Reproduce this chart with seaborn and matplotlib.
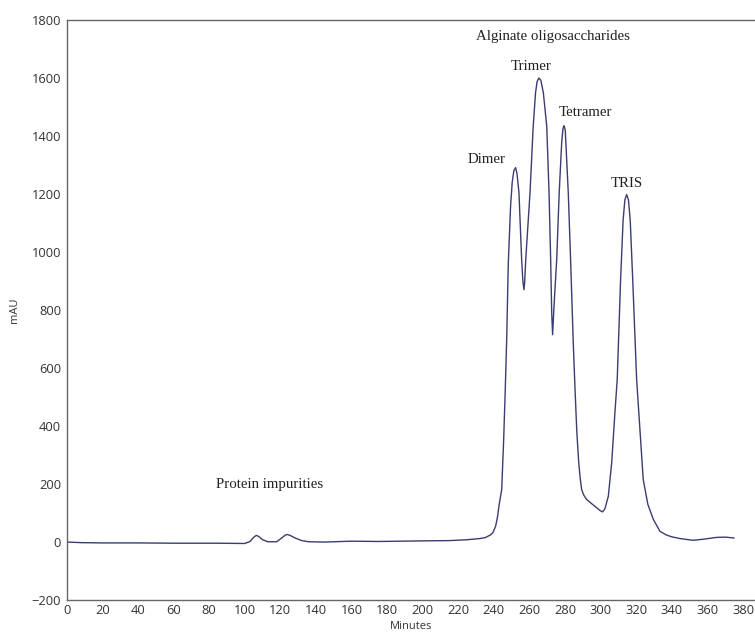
import matplotlib
matplotlib.use("Agg")
import matplotlib.pyplot as plt
import seaborn as sns
import pandas as pd

minutes = [0, 8, 20, 40, 60, 85, 100, 103, 105, 106.5, 108, 110, 113, 118, 121, 122.8, 124, 125.5,
           128, 132, 136, 145, 160, 175, 200, 215, 225, 232, 235, 238, 239.5, 241, 242, 243,
           244.4, 245.5, 246.4, 247.2, 248.1, 249.4, 250.3, 251.2, 252.2, 253, 254.1, 255.6,
           256.3, 256.9, 257.3, 257.9, 260.3, 262.1, 263.4, 264.3, 265.3, 266.4, 267.8, 269.7,
           271, 271.9, 272.5, 273, 273.6, 274.4, 275.3, 276.7, 278.1, 278.8, 279.4, 280.1,
           281.8, 283.1, 284.6, 285.6, 286.6, 287.6, 288.4, 289.3, 290.5, 292.1, 295, 297.8,
           299.8, 301.1, 302.4, 304.3, 306.2, 308, 309.3, 311.2, 312.6, 313.6, 314.6, 315.6,
           316.6, 318, 320.2, 323.9, 326.5, 329.6, 333.3, 337, 340, 344.6, 352, 358, 365, 370, 375]
mau = [0, -2, -3, -3, -4, -4, -5, 2, 16, 23, 19, 8, 1, 1, 15, 24, 26, 23,
       15, 5, 1, 0, 3, 2, 4, 5, 8, 12, 15, 24, 33, 55, 85, 130,
       181, 353, 526, 700, 960, 1160, 1240, 1280, 1291, 1270, 1204, 974,
       900, 870, 895, 974, 1204, 1434, 1549, 1588, 1600, 1592, 1549, 1434,
       1204, 974, 790, 715, 790, 880, 974, 1204, 1377, 1425, 1436, 1420,
       1204, 974, 687, 526, 380, 280, 225, 181, 162, 147, 132, 118,
       108, 104, 115, 158, 274, 446, 561, 905, 1110, 1180, 1198, 1180,
       1110, 905, 561, 216, 130, 78, 37, 24, 18, 12, 6, 10, 16, 17, 14]

labels = ["Alginate oligosaccharides", "Trimer", "Tetramer", "Dimer", "TRIS", "Protein impurities"]
label_x = [273.2, 260.7, 291.7, 236, 314.6, 114.2]
label_y = [1742, 1641, 1481, 1319, 1236, 198]

x_ticks = list(range(0, 381, 20))
y_ticks = list(range(-200, 1801, 200))

sns.set_theme(style="white")
plt.rcParams['font.family'] = ['Open Sans', 'DejaVu Sans']

fig = plt.figure(figsize=(7.55, 6.37), dpi=100)
ax = fig.add_axes([0.0883, 0.058, 0.9117, 0.9106])

df = pd.DataFrame({"Minutes": minutes, "mAU": mau})
sns.lineplot(data=df, x="Minutes", y="mAU", ax=ax, color="#3c3c70", linewidth=1.0)

ax.set_xlim(0, 386.7)
ax.set_ylim(-200, 1800)
ax.set_xticks(x_ticks)
ax.set_yticks(y_ticks)
ax.tick_params(axis="both", labelsize=9.3, colors="#333333", direction="out")
ax.tick_params(axis="y", length=3, width=0.8, pad=1, color="#555555")
ax.tick_params(axis="x", length=2, width=0.8, pad=1, color="#555555")
ax.set_xlabel("Minutes", fontsize=8, color="#333333", labelpad=3)
ax.set_ylabel("mAU", fontsize=8, color="#333333", labelpad=8)

for side in ["left", "bottom", "top"]:
    ax.spines[side].set_color("#666666")
    ax.spines[side].set_linewidth(1.0)
ax.spines["right"].set_visible(False)

for t, x, y in zip(labels, label_x, label_y):
    ax.text(x, y, t, ha="center", va="center", fontsize=10.7,
            family=["Liberation Serif", "DejaVu Serif"], color="#222222")

fig.savefig("out.png", dpi=100)
